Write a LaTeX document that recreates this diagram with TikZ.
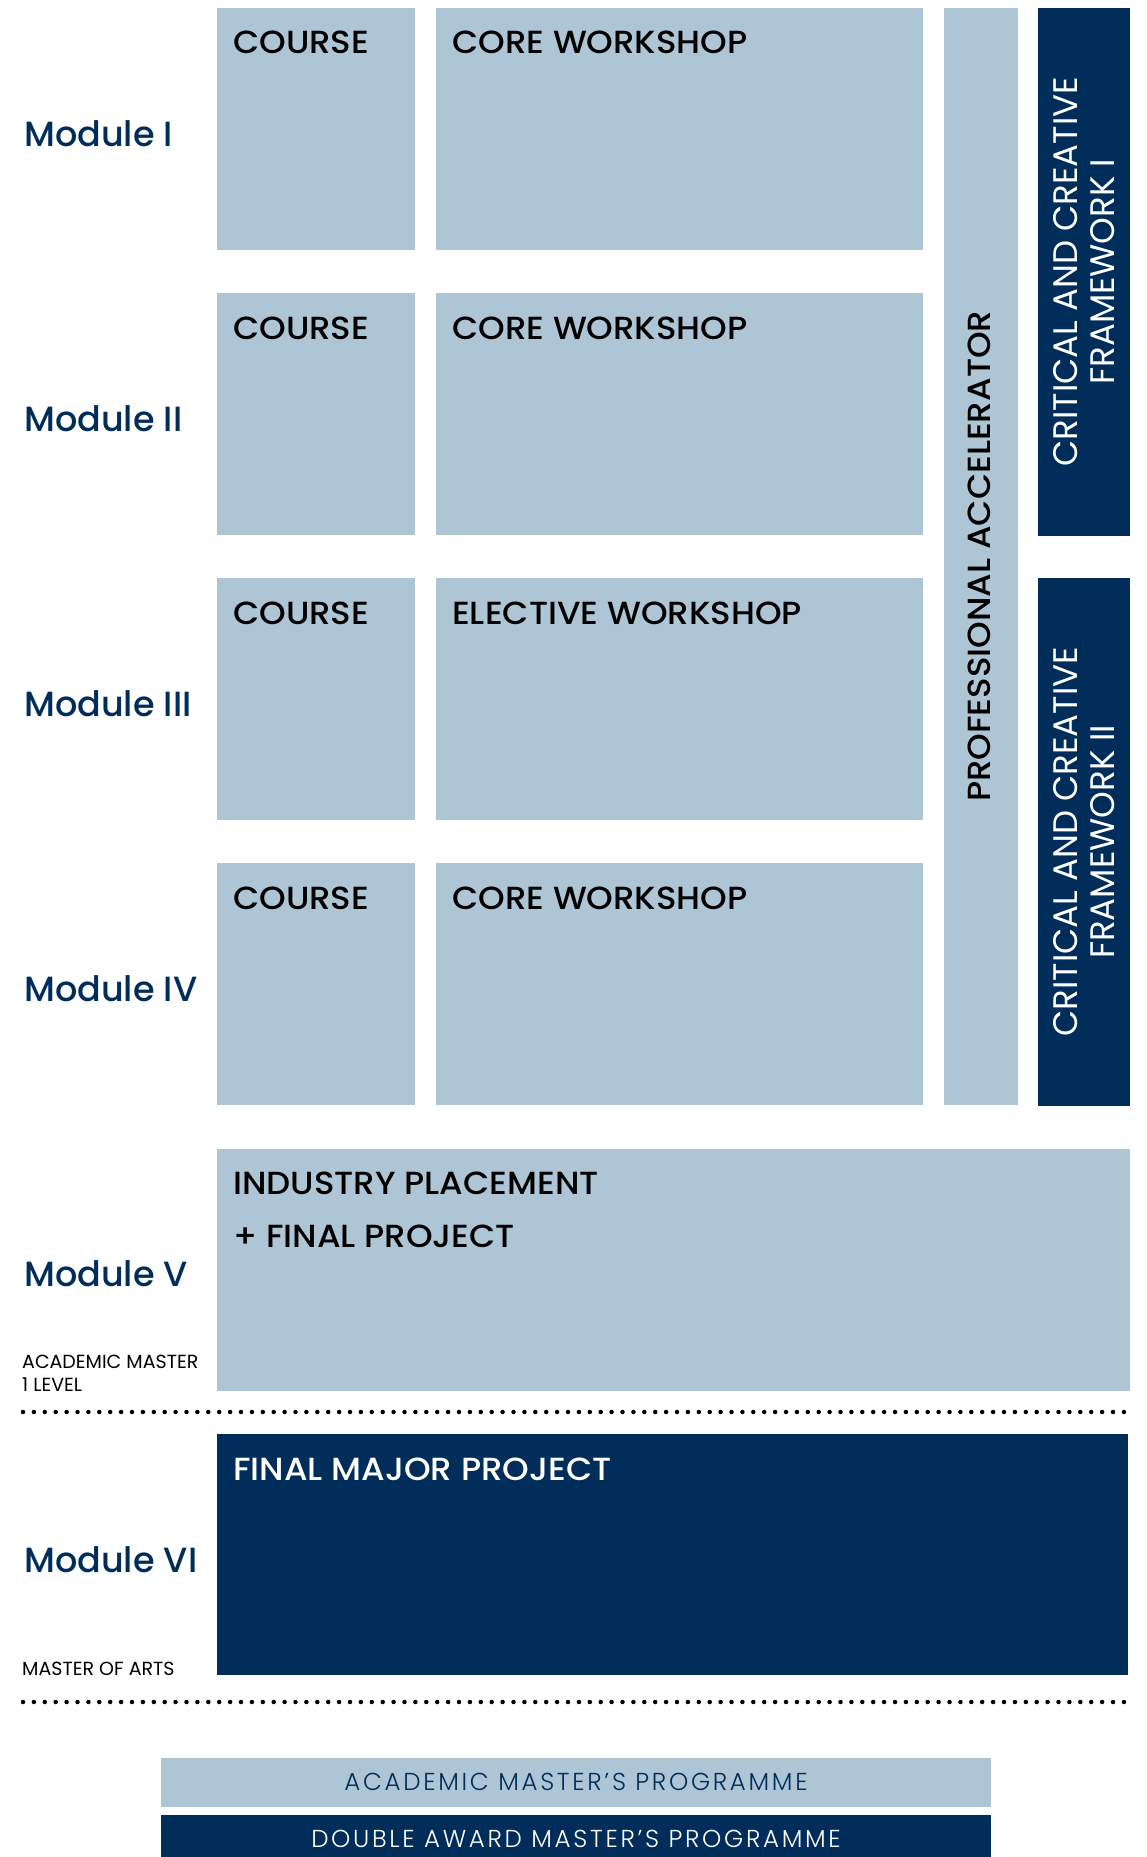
\documentclass[tikz,border=0pt]{standalone}
\usepackage{fontspec}
\setmainfont{Poppins}
\newfontfamily\boxfont{Poppins Medium}[FakeStretch=1.06]
\newfontfamily\modfont{Poppins Medium}
\newfontfamily\lightfont{Poppins Light}[LetterSpace=11]
\definecolor{lightblue}{RGB}{173,197,212}
\definecolor{navy}{RGB}{0,45,90}
\begin{document}
\begin{tikzpicture}[x=1pt,y=-1pt,
  lbox/.style={fill=lightblue,draw=none,anchor=north west,inner sep=0pt,outer sep=0pt},
  dbox/.style={fill=navy,draw=none,anchor=north west,inner sep=0pt,outer sep=0pt},
  boxtext/.style={anchor=base west,inner sep=0pt,text=black,font=\boxfont\fontsize{32}{38}\selectfont},
  modlabel/.style={anchor=base west,inner sep=0pt,text=navy,font=\modfont\fontsize{35}{42}\selectfont},
  smalllabel/.style={anchor=base west,inner sep=0pt,text=black,align=left,font=\fontsize{19}{22.7}\selectfont},
  vtext/.style={rotate=90,inner sep=0pt,align=center},
  dotline/.style={line width=4.5pt,line cap=round,dash pattern=on 0pt off 10.9pt,black}
]
\useasboundingbox (0,0) rectangle (1146,1857);
% rows
\foreach \i/\y/\m/\w in {1/8/Module I/CORE WORKSHOP,2/293/Module II/CORE WORKSHOP,3/578/Module III/ELECTIVE WORKSHOP,4/863/Module IV/CORE WORKSHOP}{
  \node[lbox,minimum width=198pt,minimum height=241.5pt] (c\i) at (217,\y) {};
  \node[lbox,minimum width=487pt,minimum height=241.5pt] (w\i) at (436,\y) {};
  \node[boxtext] (ct\i) at ([xshift=16pt,yshift=-46pt]c\i.north west) {COURSE};
  \node[boxtext] (wt\i) at ([xshift=16pt,yshift=-46pt]w\i.north west) {\w};
  \node[modlabel] (m\i) at ([yshift=-18pt]24,{\y+120.75}) {\m};
}
% professional accelerator
\node[lbox,minimum width=74pt,minimum height=1096.5pt] (pa) at (944,8) {};
\node[vtext,font=\boxfont\fontsize{32}{38}\selectfont,text=black] (pat) at ([xshift=-2pt]pa.center) {PROFESSIONAL ACCELERATOR};
% frameworks
\node[dbox,minimum width=92pt,minimum height=527.5pt] (f1) at (1038,8) {};
\node[dbox,minimum width=92pt,minimum height=527.5pt] (f2) at (1038,578) {};
\node[vtext,font=\fontsize{34}{37.5}\selectfont,text=white] (f1t) at (f1.center) {CRITICAL AND CREATIVE\\FRAMEWORK I};
\node[vtext,font=\fontsize{34}{37.5}\selectfont,text=white] (f2t) at (f2.center) {CRITICAL AND CREATIVE\\FRAMEWORK II};
% module V
\node[lbox,minimum width=913pt,minimum height=241.7pt] (m5box) at (217,1149) {};
\node[boxtext] (ip) at (233,1194.3) {INDUSTRY PLACEMENT};
\node[boxtext] (fp) at (233,1247.7) {+ FINAL PROJECT};
\node[modlabel] (m5) at (24,1286.7) {Module V};
\node[smalllabel] (am) at (22,1391) {ACADEMIC MASTER\\1 LEVEL};
\coordinate (d1a) at (23,1412);
\coordinate (d1b) at (1130,1412);
\draw[dotline] (d1a) -- (d1b);
% module VI
\node[dbox,minimum width=911pt,minimum height=241pt] (m6box) at (217,1434) {};
\node[boxtext,text=white] (fmp) at (233,1480) {FINAL MAJOR PROJECT};
\node[modlabel] (m6) at (24,1572.5) {Module VI};
\node[smalllabel] (ma) at (22,1675) {MASTER OF ARTS};
\coordinate (d2a) at (23,1702);
\coordinate (d2b) at (1130,1702);
\draw[dotline] (d2a) -- (d2b);
% bottom bars
\node[lbox,minimum width=830pt,minimum height=48.7pt] (amp) at (161,1758) {};
\node[anchor=base,inner sep=0pt,text=navy,font=\lightfont\fontsize{24.5}{28}\selectfont] (ampt) at (576,1790.7) {ACADEMIC MASTER’S PROGRAMME};
\node[dbox,minimum width=830pt,minimum height=42pt] (dam) at (161,1815) {};
\node[anchor=base,inner sep=0pt,text=white,font=\lightfont\fontsize{24.5}{28}\selectfont] (damt) at (576,1847.3) {DOUBLE AWARD MASTER’S PROGRAMME};
\end{tikzpicture}
\end{document}
